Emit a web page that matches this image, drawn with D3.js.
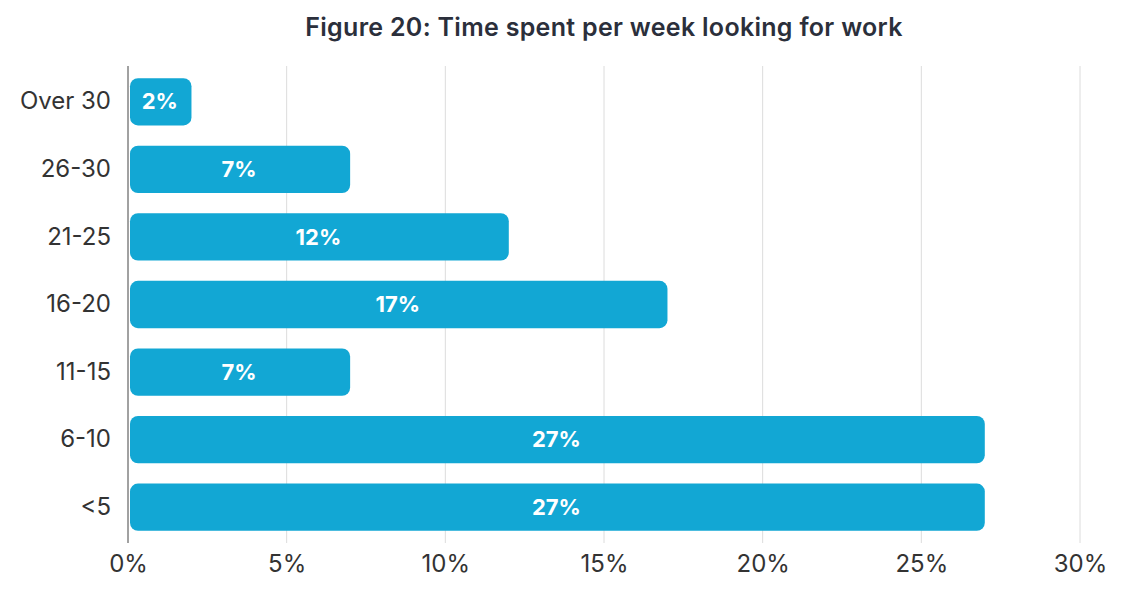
<!DOCTYPE html>
<html>
<head>
<meta charset="utf-8">
<script src="https://cdn.jsdelivr.net/npm/d3@7"></script>
<style>
  body { margin: 0; background: #fff; }
</style>
</head>
<body>
<div id="chart"></div>
<script>
const categories = ["Over 30", "26-30", "21-25", "16-20", "11-15", "6-10", "<5"];
const values = [2, 7, 12, 17, 7, 27, 27];
const xTicks = [0, 5, 10, 15, 20, 25, 30];

const width = 1142;
const height = 591;
const margin = { top: 68, right: 62, bottom: 50, left: 128 };

const data = categories.map((c, i) => ({ label: c, value: values[i] }));

const x = d3.scaleLinear()
    .domain([0, 30])
    .range([margin.left, width - margin.right]);

const y = d3.scaleBand()
    .domain(categories)
    .range([margin.top, height - margin.bottom])
    .paddingInner(0.3)
    .paddingOuter(0.15);

const svg = d3.select('#chart')
    .append('svg')
    .attr('width', width)
    .attr('height', height);

// title
svg.append('text')
    .attr('x', 604)
    .attr('y', 36)
    .attr('text-anchor', 'middle')
    .attr('font-family', 'Inter, "Open Sans", sans-serif')
    .attr('font-weight', 600)
    .attr('font-size', '25px')
    .attr('letter-spacing', '0.3px')
    .attr('fill', '#2b2f3b')
    .text('Figure 20: Time spent per week looking for work');

// gridlines
svg.append('g')
    .selectAll('line')
    .data(xTicks.slice(1))
    .join('line')
    .attr('x1', d => x(d))
    .attr('x2', d => x(d))
    .attr('y1', margin.top - 2)
    .attr('y2', height - margin.bottom + 2)
    .attr('stroke', '#dcdcdc')
    .attr('stroke-width', 1);

// x axis labels
svg.append('g')
    .attr('transform', `translate(0, ${height - margin.bottom})`)
    .call(d3.axisBottom(x).tickValues(xTicks).tickFormat(d => d + '%').tickSize(0).tickPadding(14))
    .call(g => g.select('.domain').remove())
    .selectAll('text')
    .attr('font-family', 'Inter, "Open Sans", sans-serif')
    .attr('font-size', '24px')
    .attr('fill', '#333');

// bars
svg.append('g')
    .selectAll('rect')
    .data(data)
    .join('rect')
    .attr('x', x(0) + 2)
    .attr('y', d => y(d.label))
    .attr('width', d => x(d.value) - x(0) - 2)
    .attr('height', y.bandwidth())
    .attr('rx', 8)
    .attr('fill', '#12a7d4');

// bar labels
svg.append('g')
    .selectAll('text')
    .data(data)
    .join('text')
    .attr('x', d => (x(0) + x(d.value)) / 2)
    .attr('y', d => y(d.label) + y.bandwidth() / 2)
    .attr('dy', '0.35em')
    .attr('text-anchor', 'middle')
    .attr('font-family', 'Inter, "Open Sans", sans-serif')
    .attr('font-weight', 'bold')
    .attr('font-size', '22px')
    .attr('fill', '#fff')
    .text(d => d.value + '%');

// y axis
svg.append('g')
    .attr('transform', `translate(${margin.left}, 0)`)
    .call(d3.axisLeft(y).tickSize(0).tickPadding(17))
    .call(g => g.select('.domain')
        .attr('d', `M0,${margin.top - 2}V${height - margin.bottom + 2}`)
        .attr('stroke', '#444'))
    .selectAll('text')
    .attr('font-family', 'Inter, "Open Sans", sans-serif')
    .attr('font-size', '24px')
    .attr('fill', '#333');
</script>
</body>
</html>
